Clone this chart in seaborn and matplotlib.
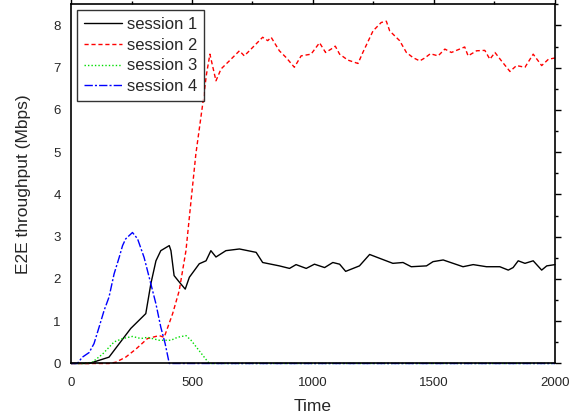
import pandas as pd
import matplotlib
matplotlib.use('Agg')
import matplotlib.pyplot as plt
import seaborn as sns
from matplotlib.ticker import MultipleLocator

# 数据
s1_t = [0, 75, 157, 247, 309, 330, 351, 371, 406, 413, 426, 447, 472, 489, 530, 558, 578, 599, 640,
        696, 765, 792, 861, 903, 930, 972, 1006, 1048, 1082, 1110, 1135, 1192, 1234, 1275, 1330, 1372,
        1406, 1469, 1496, 1538, 1579, 1620, 1662, 1717, 1772, 1807, 1827, 1848, 1876, 1910, 1945, 1966, 2000]
s1_v = [0, 0, 0.15, 0.83, 1.18, 1.89, 2.43, 2.67, 2.79, 2.67, 2.08, 1.93, 1.76, 2.04, 2.36, 2.43, 2.67, 2.52, 2.67,
        2.71, 2.63, 2.39, 2.31, 2.25, 2.34, 2.25, 2.35, 2.27, 2.39, 2.35, 2.18, 2.31, 2.58, 2.49, 2.37, 2.39,
        2.29, 2.31, 2.41, 2.45, 2.37, 2.29, 2.34, 2.29, 2.29, 2.21, 2.27, 2.43, 2.37, 2.43, 2.21, 2.31, 2.34]

s2_t = [0, 100, 157, 185, 226, 268, 316, 364, 385, 420, 447, 475, 496, 516, 544, 560, 574, 599, 620, 654,
        696, 716, 737, 792, 813, 827, 861, 889, 923, 951, 992, 1027, 1052, 1075, 1092, 1110, 1144, 1186,
        1206, 1248, 1282, 1303, 1317, 1358, 1386, 1413, 1441, 1462, 1485, 1517, 1545, 1572, 1627, 1641,
        1676, 1710, 1731, 1752, 1779, 1814, 1841, 1876, 1910, 1945, 1973, 2000]
s2_v = [0, 0, 0.0, 0.03, 0.15, 0.34, 0.59, 0.66, 0.62, 1.18, 1.72, 2.67, 3.85, 4.96, 6.13, 6.85, 7.32, 6.69, 6.97, 7.16,
        7.40, 7.28, 7.40, 7.72, 7.64, 7.72, 7.40, 7.24, 7.01, 7.28, 7.32, 7.59, 7.36, 7.44, 7.51, 7.32, 7.18, 7.10,
        7.36, 7.87, 8.07, 8.10, 7.87, 7.64, 7.36, 7.24, 7.16, 7.23, 7.33, 7.28, 7.44, 7.36, 7.49, 7.28,
        7.40, 7.41, 7.20, 7.36, 7.16, 6.91, 7.05, 7.01, 7.32, 7.05, 7.20, 7.23]

s3_t = [0, 50, 88, 130, 178, 213, 254, 289, 316, 364, 413, 440, 475, 496, 530, 571, 2000]
s3_v = [0, 0, 0.03, 0.22, 0.51, 0.59, 0.64, 0.59, 0.62, 0.55, 0.55, 0.62, 0.66, 0.55, 0.30, 0, 0]

s4_t = [0, 26, 47, 75, 95, 116, 137, 157, 178, 199, 213, 226, 254, 275, 302, 323, 351, 371, 389, 406, 2000]
s4_v = [0, 0, 0.15, 0.26, 0.47, 0.86, 1.26, 1.57, 2.12, 2.51, 2.79, 2.95, 3.10, 2.95, 2.51, 2.04, 1.41, 0.86, 0.47, 0, 0]

sessions = ['session 1', 'session 2', 'session 3', 'session 4']
series = [(s1_t, s1_v), (s2_t, s2_v), (s3_t, s3_v), (s4_t, s4_v)]
colors = ['black', 'red', '#00dd00', 'blue']
dashes = [None, (3, 2), (1, 1.5), (6, 1.5, 1.5, 1.5)]

sns.set_style('white')
plt.rcParams['font.family'] = ['Liberation Sans', 'DejaVu Sans']

fig = plt.figure(figsize=(5.84, 4.18), dpi=100)
ax = fig.add_axes([0.1216, 0.1304, 0.8287, 0.8593])

for name, (t, v), c, d in zip(sessions, series, colors, dashes):
    df = pd.DataFrame({'Time': t, 'val': v})
    sns.lineplot(data=df, x='Time', y='val', color=c, linewidth=1.0, label=name, ax=ax)
    ln = ax.lines[-1]
    ln.set_clip_on(False)
    if d is not None:
        ln.set_dashes(d)

ax.set_xlim(0, 2000)
ax.set_ylim(0, 8.5)
ax.xaxis.set_major_locator(MultipleLocator(500))
ax.xaxis.set_minor_locator(MultipleLocator(250))
ax.yaxis.set_major_locator(MultipleLocator(1))
ax.yaxis.set_minor_locator(MultipleLocator(0.5))
ax.tick_params(which='both', direction='out', top=True, right=True, width=1, color='black')
ax.tick_params(which='major', length=4)
ax.tick_params(which='minor', length=2.5)
ax.tick_params(axis='x', labelsize=9.5, pad=6)
ax.tick_params(axis='y', labelsize=9.5, pad=3.5)
for sp in ax.spines.values():
    sp.set_color('black')
    sp.set_linewidth(1.2)

ax.set_xlabel('Time', fontsize=12.5, labelpad=7)
ax.set_ylabel('E2E throughput (Mbps)', fontsize=12.5, labelpad=16)

leg = ax.legend(loc='upper left', fontsize=12, frameon=True, fancybox=False, handlelength=2.3,
                borderpad=0.4, labelspacing=0.35, handletextpad=0.3, borderaxespad=0.35)
leg.get_frame().set_edgecolor('black')
leg.get_frame().set_linewidth(1.0)

fig.savefig('out.png', dpi=100)
